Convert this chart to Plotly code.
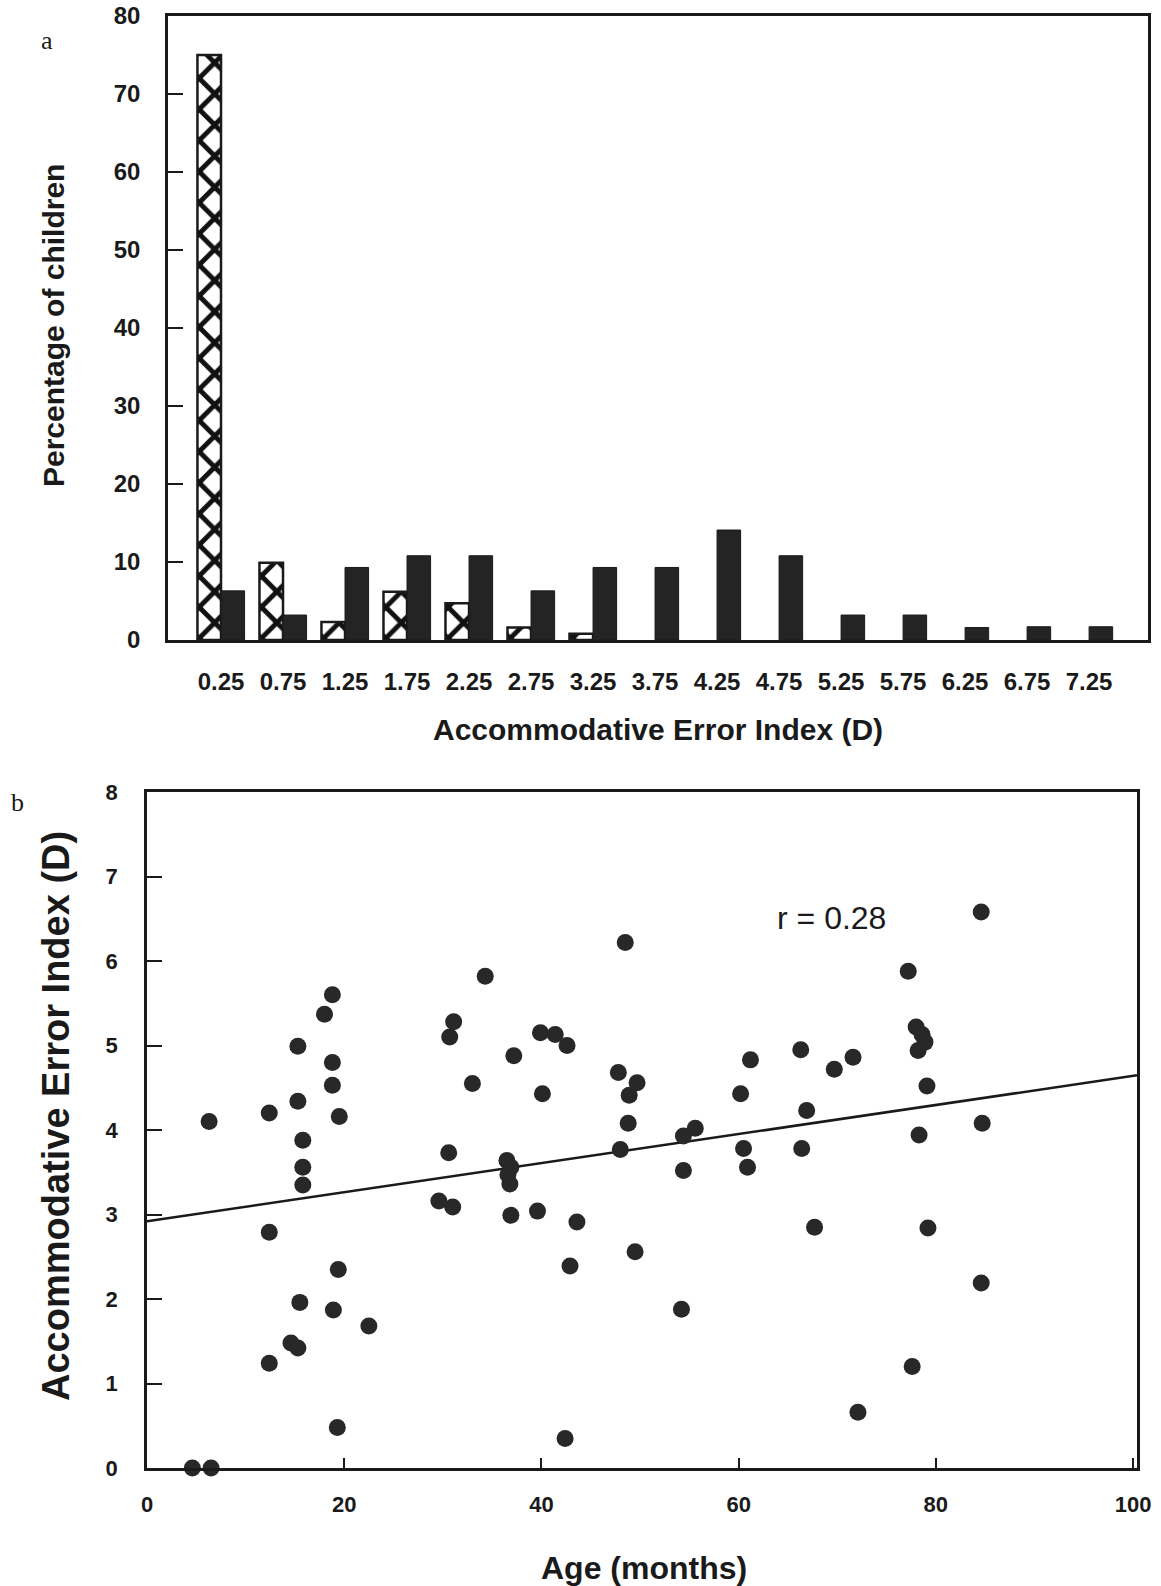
import plotly.graph_objects as go

# ---- panel a: distribution of accommodative error index ----
aei_bins = ["0.25", "0.75", "1.25", "1.75", "2.25", "2.75", "3.25", "3.75",
            "4.25", "4.75", "5.25", "5.75", "6.25", "6.75", "7.25"]
hatched_pct = [75.0, 9.9, 2.3, 6.2, 4.7, 1.6, 0.8, None, None, None,
               None, None, None, None, None]
solid_pct = [6.3, 3.2, 9.3, 10.8, 10.8, 6.3, 9.3, 9.3, 14.1, 10.8,
             3.2, 3.2, 1.6, 1.7, 1.7]
pct_ticks = [0, 10, 20, 30, 40, 50, 60, 70, 80]

# ---- panel b: accommodative error index vs age ----
age_months = [6.3, 12.4, 12.4, 12.4, 15.3, 15.3, 15.8, 15.8, 15.8, 15.5,
              14.6, 15.3, 18.8, 18.0, 18.8, 18.8, 19.5, 19.4, 18.9, 22.5,
              19.3, 4.6, 6.5, 34.3, 31.1, 30.7, 33.0, 30.6, 29.6, 31.0,
              48.5, 39.9, 41.4, 42.6, 37.2, 40.1, 47.8, 49.7, 48.9, 48.8,
              48.0, 36.5, 36.9, 36.6, 36.8, 36.9, 39.6, 43.6, 42.9, 49.5,
              54.2, 42.4, 54.4, 55.6, 54.4, 61.2, 60.2, 60.5, 60.9, 66.3,
              66.9, 66.4, 67.7, 69.7, 71.6, 84.6, 77.2, 78.0, 78.6, 78.9,
              78.2, 79.1, 84.7, 78.3, 79.2, 84.6, 77.6, 72.1]
aei_values = [4.10, 4.20, 2.79, 1.24, 4.99, 4.34, 3.88, 3.56, 3.35, 1.96,
              1.48, 1.42, 5.60, 5.37, 4.80, 4.53, 4.16, 2.35, 1.87, 1.68,
              0.48, 0.0, 0.0, 5.82, 5.28, 5.10, 4.55, 3.73, 3.16, 3.09,
              6.22, 5.15, 5.13, 5.00, 4.88, 4.43, 4.68, 4.56, 4.41, 4.08,
              3.77, 3.64, 3.56, 3.47, 3.36, 2.99, 3.04, 2.91, 2.39, 2.56,
              1.88, 0.35, 3.93, 4.02, 3.52, 4.83, 4.43, 3.78, 3.56, 4.95,
              4.23, 3.78, 2.85, 4.72, 4.86, 6.58, 5.88, 5.22, 5.13, 5.04,
              4.94, 4.52, 4.08, 3.94, 2.84, 2.19, 1.20, 0.66]
fit_intercept = 2.92
fit_slope = 0.0172
fit_age = [0.0, 100.4]
fit_aei = [fit_intercept + fit_slope * a for a in fit_age]
age_ticks = [0, 20, 40, 60, 80, 100]
aei_ticks = [0, 1, 2, 3, 4, 5, 6, 7, 8]

W, H = 1161, 1586
INK = "#1a1a1a"
SANS = "Liberation Sans, Arial, sans-serif"


def px_x(p):
    return p / W


def px_y(p):
    return 1 - p / H


fig = go.Figure()

fig.add_trace(go.Bar(
    x=aei_bins, y=hatched_pct, xaxis="x", yaxis="y",
    marker=dict(color="white",
                line=dict(color=INK, width=2.5),
                pattern=dict(shape="x", fgcolor="#111111", fgopacity=1,
                             bgcolor="white", size=22, solidity=0.4)),
    showlegend=False, hoverinfo="skip"))
fig.add_trace(go.Bar(
    x=aei_bins, y=solid_pct, xaxis="x", yaxis="y",
    marker=dict(color="#242424", line=dict(color=INK, width=1)),
    showlegend=False, hoverinfo="skip"))

fig.add_trace(go.Scatter(
    x=fit_age, y=fit_aei, xaxis="x2", yaxis="y2", mode="lines",
    line=dict(color=INK, width=2.5), showlegend=False, hoverinfo="skip"))
fig.add_trace(go.Scatter(
    x=age_months, y=aei_values, xaxis="x2", yaxis="y2", mode="markers",
    marker=dict(color="#282828", size=17, line=dict(width=0)),
    showlegend=False, cliponaxis=False))

tick_font_a = dict(family=SANS, size=24, color=INK, weight="bold")
tick_font_b = dict(family=SANS, size=22, color=INK, weight="bold")

axis_common = dict(showline=True, mirror=True, linecolor=INK, linewidth=2.5,
                   showgrid=False, zeroline=False, automargin=False)

fig.update_layout(
    width=W, height=H,
    margin=dict(l=0, r=0, t=0, b=0, pad=0, autoexpand=False),
    paper_bgcolor="white", plot_bgcolor="white",
    barmode="group", bargap=0.24, bargroupgap=0.0,
    xaxis=dict(domain=[px_x(168), px_x(1148)], anchor="y",
               type="category", range=[-0.855, 14.95], ticks="",
               tickfont=tick_font_a, ticklabelstandoff=18, **axis_common),
    yaxis=dict(domain=[px_y(640), px_y(16)], anchor="x",
               range=[0, 80], tickvals=pct_ticks,
               ticks="inside", ticklen=15, tickwidth=2, tickcolor=INK,
               tickfont=tick_font_a, ticklabelstandoff=20, **axis_common),
    xaxis2=dict(domain=[px_x(147), px_x(1137)], anchor="y2",
                range=[0, 100.4], tickvals=age_ticks,
                ticks="inside", ticklen=10, tickwidth=2, tickcolor=INK,
                tickfont=tick_font_b, ticklabelstandoff=15, **axis_common),
    yaxis2=dict(domain=[px_y(1468), px_y(792)], anchor="x2",
                range=[0, 8], tickvals=aei_ticks,
                ticks="inside", ticklen=15, tickwidth=2, tickcolor=INK,
                tickfont=tick_font_b, ticklabelstandoff=22, **axis_common),
)

title_font = dict(family=SANS, color=INK, weight="bold")
centered = dict(xref="paper", yref="paper", showarrow=False,
                xanchor="center", yanchor="middle")
annotations = [
    dict(text="a", x=px_x(47), y=px_y(40),
         font=dict(family="Liberation Serif, serif", size=26, color=INK), **centered),
    dict(text="b", x=px_x(17), y=px_y(802),
         font=dict(family="Liberation Serif, serif", size=26, color=INK), **centered),
    dict(text="Percentage of children", x=px_x(53), y=px_y(326), textangle=-90,
         font=dict(size=30, **title_font), **centered),
    dict(text="Accommodative Error Index (D)", x=px_x(658), y=px_y(729),
         font=dict(size=30, **title_font), **centered),
    dict(text="Accommodative Error Index (D)", x=px_x(56), y=px_y(1116), textangle=-90,
         font=dict(size=38, **title_font), **centered),
    dict(text="Age (months)", x=px_x(644), y=px_y(1568),
         font=dict(size=32, **title_font), **centered),
    dict(text="r = 0.28", x=69.4, y=6.51, xref="x2", yref="y2",
         showarrow=False, xanchor="center", yanchor="middle",
         font=dict(family=SANS, size=32, color=INK)),
]
fig.update_layout(annotations=annotations)

fig.write_html("out.html")
